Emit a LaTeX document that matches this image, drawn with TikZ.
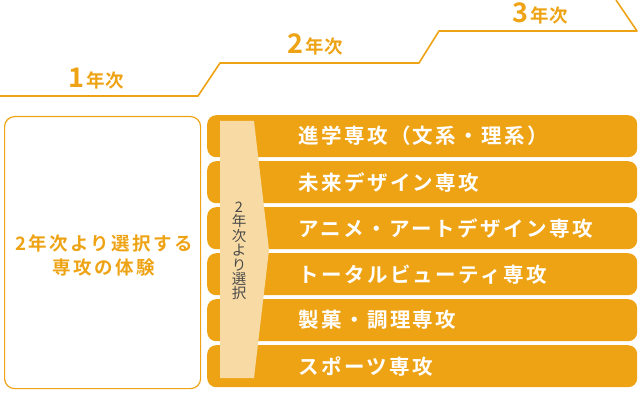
\documentclass[tikz,border=0pt]{standalone}
\usepackage{fontspec}
\newfontfamily\jpfont{Noto Sans CJK JP}
\newfontfamily\jpbold{Noto Sans CJK JP Bold}
\newfontfamily\barfont{Noto Sans CJK JP Bold}[LetterSpace=12]
\newfontfamily\boxfont{Noto Sans CJK JP Bold}[LetterSpace=13]
\definecolor{mainorange}{HTML}{EEA315}
\definecolor{arrowpeach}{HTML}{F8DBA4}
\definecolor{textgray}{HTML}{4A4A4A}
\newcommand\yearnum[1]{{\fontsize{27}{27}\selectfont #1}\kern3pt}
\tikzset{
	bar/.style={fill=mainorange,rounded corners=9pt,minimum width=430pt,minimum height=42pt,inner sep=0pt,anchor=north west},
	bartext/.style={anchor=west,text=white,inner sep=0pt,font=\barfont\fontsize{20.5}{22}\selectfont},
	year/.style={anchor=base,text=mainorange,inner sep=0pt,text height=19pt,text depth=2pt,font=\jpbold\fontsize{18.5}{20}\selectfont}
}
\begin{document}
\begin{tikzpicture}[x=1pt,y=-1pt,line join=round]
			\useasboundingbox (0,0) rectangle (640,401);
			% steps of the three years
			\draw[mainorange,line width=1.6pt] (0,96) -- (198,96) -- (220,63) -- (419,63) -- (439,31) -- (637,31) -- (616,0);
			\node[year] (year1) at (96,88) {\yearnum{1}年次};
			\node[year] (year2) at (315,54) {\yearnum{2}年次};
			\node[year] (year3) at (540,23) {\yearnum{3}年次};
			% first year box
			\node[draw=mainorange,line width=1.2pt,rounded corners=10pt,minimum width=196pt,minimum height=272pt,anchor=north west] (trial) at (4,116) {};
			\node[text=mainorange,align=center,inner sep=0pt,font=\boxfont\fontsize{18.5}{24}\selectfont] (trialtext) at (104,255) {2年次より選択する\\専攻の体験};
			% majors
			\foreach \i/\name in {1/進学専攻（文系・理系）,2/未来デザイン専攻,3/アニメ・アートデザイン専攻,4/トータルビューティ専攻,5/製菓・調理専攻,6/スポーツ専攻}{
				\node[bar] (bar\i) at (207,{115+46*(\i-1)}) {};
				\node[bartext] (major\i) at ([xshift=91pt]bar\i.west) {\name};
			}
			\fill[arrowpeach] (220,121) -- (254,121) -- (269,250) -- (254,378) -- (220,378) -- cycle;
			\node[text=textgray,align=center,inner sep=0pt,font=\jpfont\fontsize{14.5}{14.4}\selectfont] (choice) at (239,251) {2\\年\\次\\よ\\り\\選\\択};
		\end{tikzpicture}
\end{document}
